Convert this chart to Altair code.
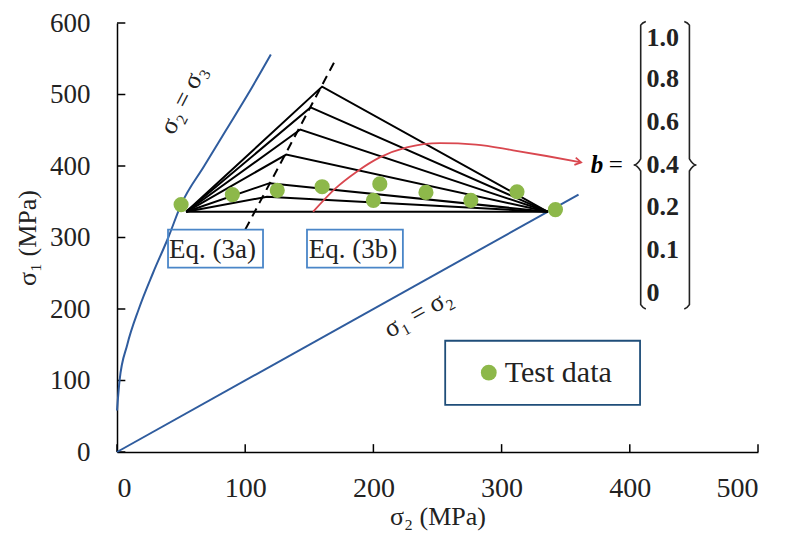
import altair as alt
import pandas as pd

# ---- data ----
curve23_x = [0, 2, 8, 17, 28, 40, 50, 68, 85, 102, 120]
curve23_y = [58, 100, 150, 200, 250, 300, 346, 400, 450, 500, 556]
line12_x = [0, 360]
line12_y = [0, 360]

b_labels = ["1.0", "0.8", "0.6", "0.4", "0.2", "0.1", "0"]
left_apex = (54, 336)
right_apex = (336, 336)
peak_x = [160, 151, 143, 132, 119, 117, None]
peak_y = [511, 482, 451, 416, 376, 357, None]

eq3a_x = [100, 170]
eq3a_y = [311, 547]
eq3b_x = [153, 170, 187, 205, 226, 252, 280, 309, 335, 362]
eq3b_y = [336, 368, 392, 412, 426, 432, 430, 422, 414, 405]

test_x = [50, 90, 125, 160, 205, 200, 241, 276, 312, 342]
test_y = [346, 360, 366, 371, 375, 352, 363, 352, 364, 339]

x_ticks = [0, 100, 200, 300, 400, 500]
y_ticks = [0, 100, 200, 300, 400, 500, 600]
b_text_y = [579, 521, 461, 401, 342, 283, 222]

FONT = "Liberation Serif"
BLUE = "#2f5c9e"
BOX_BLUE = "#4a86c8"
GREEN = "#8db84a"
RED = "#d9474f"

xs = alt.Scale(domain=[0, 500], nice=False, zero=False)
ys = alt.Scale(domain=[0, 600], nice=False, zero=False)

x_axis = alt.Axis(values=x_ticks, ticks=False, grid=False, domainColor="black",
                  domainWidth=1.5, labelFont=FONT, labelFontSize=28, labelColor="#222",
                  labelPadding=22, titleFont=FONT, titleFontSize=26, titleFontWeight="normal",
                  titleColor="#222", titlePadding=1)
y_axis = alt.Axis(values=y_ticks, ticks=False, grid=False, domainColor="black",
                  domainWidth=1.5, labelFont=FONT, labelFontSize=27, labelColor="#222",
                  labelPadding=27, titleFont=FONT, titleFontSize=26, titleFontWeight="normal",
                  titleColor="#222", titlePadding=9)

def X(f="x"):
    return alt.X(f"{f}:Q", scale=xs, axis=x_axis, title="σ₂ (MPa)")

def Y(f="y"):
    return alt.Y(f"{f}:Q", scale=ys, axis=y_axis, title="σ₁ (MPa)")

xt = alt.Chart(pd.DataFrame({"x": x_ticks, "y0": 0, "y1": 11})).mark_rule(color="black", strokeWidth=1.5).encode(
    x=X(), y=Y("y0"), y2="y1:Q")
yt = alt.Chart(pd.DataFrame({"y": y_ticks, "x0": 0, "x1": 6.5})).mark_rule(color="black", strokeWidth=1.5).encode(
    y=Y(), x=X("x0"), x2="x1:Q")

c23 = alt.Chart(pd.DataFrame({"x": curve23_x, "y": curve23_y, "o": range(len(curve23_x))})).mark_line(
    color=BLUE, strokeWidth=2, interpolate="monotone").encode(x=X(), y=Y(), order="o:Q")
l12 = alt.Chart(pd.DataFrame({"x": line12_x, "y": line12_y})).mark_line(color=BLUE, strokeWidth=2).encode(x=X(), y=Y())

rows = []
for b, px, py in zip(b_labels, peak_x, peak_y):
    pts = [left_apex] + ([(px, py)] if px is not None else []) + [right_apex]
    for i, (a, c) in enumerate(pts):
        rows.append({"b": b, "x": a, "y": c, "o": i})
tri = alt.Chart(pd.DataFrame(rows)).mark_line(color="black", strokeWidth=2).encode(
    x=X(), y=Y(), detail="b:N", order="o:Q")

e3a = alt.Chart(pd.DataFrame({"x": eq3a_x, "y": eq3a_y})).mark_line(
    color="black", strokeWidth=2, strokeDash=[9, 6]).encode(x=X(), y=Y())
e3b = alt.Chart(pd.DataFrame({"x": eq3b_x, "y": eq3b_y, "o": range(len(eq3b_x))})).mark_line(
    color=RED, strokeWidth=1.8, interpolate="monotone").encode(x=X(), y=Y(), order="o:Q")
arrow = alt.Chart(pd.DataFrame({"x": [eq3b_x[-1]], "y": [eq3b_y[-1]]})).mark_point(
    shape="M-1,-0.6L0,0L-1,0.6", filled=False, color=RED, strokeWidth=1.8, size=150, angle=11, opacity=1).encode(x=X(), y=Y())

pts = alt.Chart(pd.DataFrame({"x": test_x, "y": test_y})).mark_circle(
    color=GREEN, size=230, opacity=1).encode(x=X(), y=Y())

# boxes
boxes_df = pd.DataFrame({
    "x": [39.8, 148.2], "x2": [113.9, 223], "y": [258, 258], "y2": [311, 311],
    "t": ["Eq. (3a)", "Eq. (3b)"], "cx": [74.5, 184], "cy": [283, 283]})
boxes = alt.Chart(boxes_df).mark_rect(fill=None, stroke=BOX_BLUE, strokeWidth=1.8).encode(
    x=X(), x2="x2:Q", y=Y(), y2="y2:Q")
box_txt = alt.Chart(boxes_df).mark_text(font=FONT, fontSize=27, color="#222").encode(
    x=X("cx"), y=Y("cy"), text="t:N")

leg_df = pd.DataFrame({"x": [256], "x2": [408], "y": [66], "y2": [155.6]})
leg_box = alt.Chart(leg_df).mark_rect(fill=None, stroke="#1f4e79", strokeWidth=1.8).encode(
    x=X(), x2="x2:Q", y=Y(), y2="y2:Q")
leg_pt = alt.Chart(pd.DataFrame({"x": [290], "y": [111]})).mark_circle(color=GREEN, size=250, opacity=1).encode(x=X(), y=Y())
leg_txt = alt.Chart(pd.DataFrame({"x": [302.5], "y": [110], "t": ["Test data"]})).mark_text(
    font=FONT, fontSize=30, align="left", color="#222").encode(x=X(), y=Y(), text="t:N")

# rotated labels
lab23 = alt.Chart(pd.DataFrame({"x": [51.5], "y": [493], "t": ["σ₂ = σ₃"]})).mark_text(
    font=FONT, fontSize=26, angle=297, color="#222").encode(x=X(), y=Y(), text="t:N")
lab12 = alt.Chart(pd.DataFrame({"x": [235], "y": [194], "t": ["σ₁ = σ₂"]})).mark_text(
    font=FONT, fontSize=26, angle=331, color="#222").encode(x=X(), y=Y(), text="t:N")

# b = { ... }
b_sym = alt.Chart(pd.DataFrame({"x": [374.5], "y": [402], "t": ["b"]})).mark_text(
    font=FONT, fontSize=25, fontWeight="bold", fontStyle="italic", color="black").encode(x=X(), y=Y(), text="t:N")
eq_sym = alt.Chart(pd.DataFrame({"x": [389], "y": [402], "t": ["="]})).mark_text(
    font=FONT, fontSize=25, color="black").encode(x=X(), y=Y(), text="t:N")
b_vals = alt.Chart(pd.DataFrame({"x": [413.0] * len(b_labels), "y": b_text_y, "t": b_labels})).mark_text(
    font=FONT, fontSize=26, fontWeight="bold", align="left", color="#222").encode(x=X(), y=Y(), text="t:N")

brace_l_x = [412.5, 408.5, 408.5, 403, 408.5, 408.5, 412.5]
brace_r_x = [442.5, 446.5, 446.5, 452, 446.5, 446.5, 442.5]
brace_y = [602, 597, 410, 401.4, 393, 206, 200]
br_rows = []
for side, bx in (("l", brace_l_x), ("r", brace_r_x)):
    for i, (a, c) in enumerate(zip(bx, brace_y)):
        br_rows.append({"s": side, "x": a, "y": c, "o": i})
braces = alt.Chart(pd.DataFrame(br_rows)).mark_line(color="#222", strokeWidth=1.6, interpolate="monotone").encode(
    x=X(), y=Y(), detail="s:N", order="o:Q")

chart = alt.layer(
    xt, yt, c23, l12, tri, e3a, e3b, arrow, pts, boxes, box_txt,
    leg_box, leg_pt, leg_txt, lab23, lab12, b_sym, eq_sym, b_vals, braces
).properties(
    width=641, height=429,
    autosize=alt.AutoSizeParams(type="none"),
    padding={"left": 109, "top": 15, "right": 20, "bottom": 80},
).configure_view(stroke=None)

chart.save("out.html", embed_options={"renderer": "svg", "actions": False})
